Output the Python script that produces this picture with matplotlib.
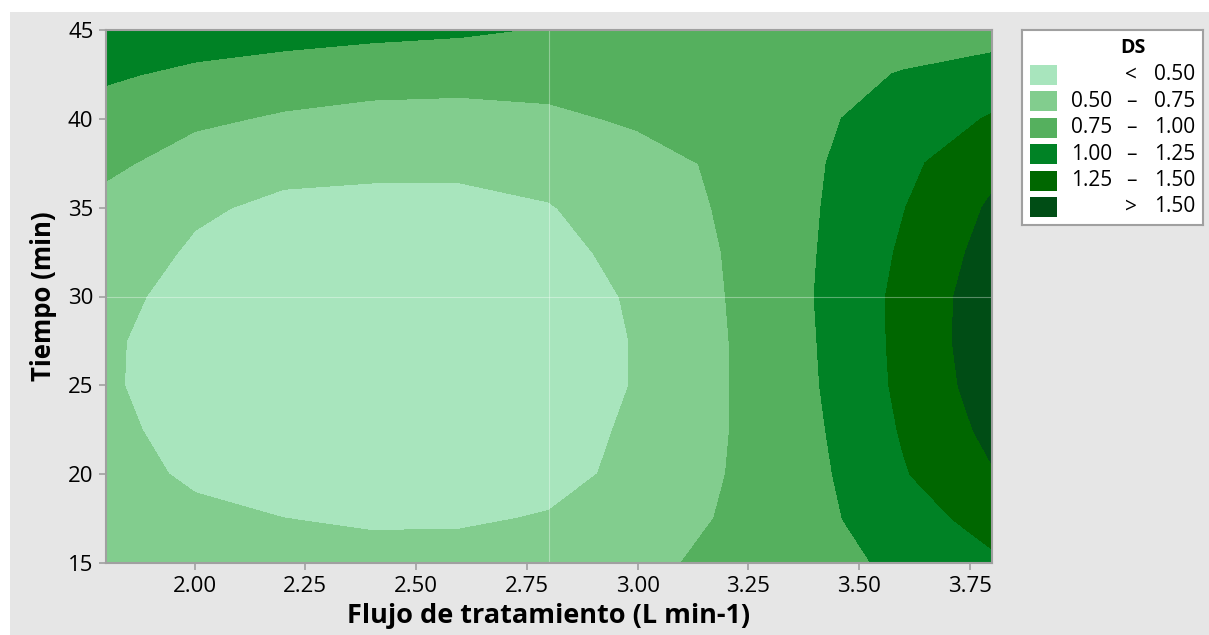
import numpy as np
import matplotlib.pyplot as plt
from matplotlib.patches import Rectangle

plt.rcParams['font.family'] = ['Open Sans', 'DejaVu Sans']

# grid
flujo = [1.8, 2.0, 2.2, 2.4, 2.6, 2.8, 3.0, 3.2, 3.4, 3.6, 3.8]
tiempo = [15, 17.5, 20, 22.5, 25, 27.5, 30, 32.5, 35, 37.5, 40, 42.5, 45]
ds = [
    [0.68, 0.62, 0.58, 0.55, 0.56, 0.60, 0.70, 0.80, 0.91, 1.05, 1.21],
    [0.62, 0.54, 0.50, 0.48, 0.48, 0.51, 0.62, 0.77, 0.93, 1.15, 1.33],
    [0.57, 0.47, 0.44, 0.42, 0.42, 0.45, 0.54, 0.75, 0.94, 1.23, 1.48],
    [0.54, 0.44, 0.40, 0.38, 0.38, 0.42, 0.53, 0.74, 0.96, 1.27, 1.56],
    [0.52, 0.42, 0.38, 0.36, 0.36, 0.40, 0.51, 0.74, 0.98, 1.30, 1.62],
    [0.52, 0.43, 0.38, 0.36, 0.37, 0.40, 0.51, 0.74, 0.99, 1.31, 1.65],
    [0.54, 0.45, 0.40, 0.38, 0.38, 0.42, 0.52, 0.75, 1.00, 1.31, 1.64],
    [0.58, 0.48, 0.43, 0.41, 0.41, 0.45, 0.55, 0.76, 0.99, 1.28, 1.59],
    [0.67, 0.52, 0.47, 0.46, 0.46, 0.49, 0.59, 0.78, 0.98, 1.24, 1.53],
    [0.80, 0.64, 0.54, 0.53, 0.53, 0.56, 0.66, 0.79, 0.97, 1.19, 1.43],
    [0.90, 0.79, 0.72, 0.68, 0.67, 0.70, 0.78, 0.86, 0.96, 1.09, 1.27],
    [1.03, 0.95, 0.88, 0.84, 0.83, 0.84, 0.86, 0.89, 0.93, 1.01, 1.09],
    [1.15, 1.12, 1.10, 1.06, 1.03, 0.98, 0.93, 0.90, 0.88, 0.89, 0.90],
]

niveles = [0, 0.50, 0.75, 1.00, 1.25, 1.50, 3.0]
colores = ['#a8e5bd', '#82cd8e', '#55b05e', '#008225', '#006700', '#004d15']
lab_bajo = ['', '0.50', '0.75', '1.00', '1.25', '']
lab_sep = ['<', '\u2013', '\u2013', '\u2013', '\u2013', '>']
lab_alto = ['0.50', '0.75', '1.00', '1.25', '1.50', '1.50']

W, H = 1209, 635
fig = plt.figure(figsize=(W / 100, H / 100), dpi=100)
fig.patch.set_facecolor('white')
fig.add_artist(Rectangle((10 / W, 0), 1, (H - 12) / H, transform=fig.transFigure,
                         facecolor='#e6e6e6', edgecolor='none', zorder=-10))

ax = fig.add_axes([106 / W, (H - 563) / H, 886 / W, 533 / H])
cs = ax.contourf(flujo, tiempo, ds, levels=niveles, colors=colores)
cs.set_edgecolor('face')
ax.axvline(2.8, color='white', alpha=0.35, lw=0.8)
ax.axhline(30, color='white', alpha=0.35, lw=0.8)

ax.set_xlim(1.8, 3.8)
ax.set_ylim(15, 45)
ax.set_xticks([2.0, 2.25, 2.5, 2.75, 3.0, 3.25, 3.5, 3.75])
ax.set_xticklabels(['%.2f' % v for v in ax.get_xticks()])
ax.set_yticks([15, 20, 25, 30, 35, 40, 45])
ax.tick_params(axis='both', direction='out', length=5, width=1.2, color='#a0a0a0',
               labelsize=16, pad=4)
for s in ax.spines.values():
    s.set_color('#a0a0a0')
    s.set_linewidth(1.5)

ax.set_xlabel('Flujo de tratamiento (L min-1)', fontsize=19.5, fontweight='bold', labelpad=5)
ax.set_ylabel('Tiempo (min)', fontsize=18.5, fontweight='bold', labelpad=8)

# legend box
lax = fig.add_axes([1022 / W, (H - 225) / H, 181 / W, 195 / H])
lax.set_xlim(1022, 1203)
lax.set_ylim(225, 30)
lax.set_xticks([])
lax.set_yticks([])
lax.set_facecolor('white')
for s in lax.spines.values():
    s.set_color('#a0a0a0')
    s.set_linewidth(1.5)
lax.text(1133, 48, 'DS', ha='center', va='center', fontsize=14, fontweight='bold')
for i in range(len(colores)):
    yc = 75 + i * 26.4
    lax.add_patch(Rectangle((1030, yc - 10), 27, 20, facecolor=colores[i], edgecolor='none'))
    lax.text(1112, yc, lab_bajo[i], ha='right', va='center', fontsize=15)
    lax.text(1131, yc, lab_sep[i], ha='center', va='center', fontsize=15)
    lax.text(1195, yc, lab_alto[i], ha='right', va='center', fontsize=15)

fig.savefig('out.png', dpi=100)
